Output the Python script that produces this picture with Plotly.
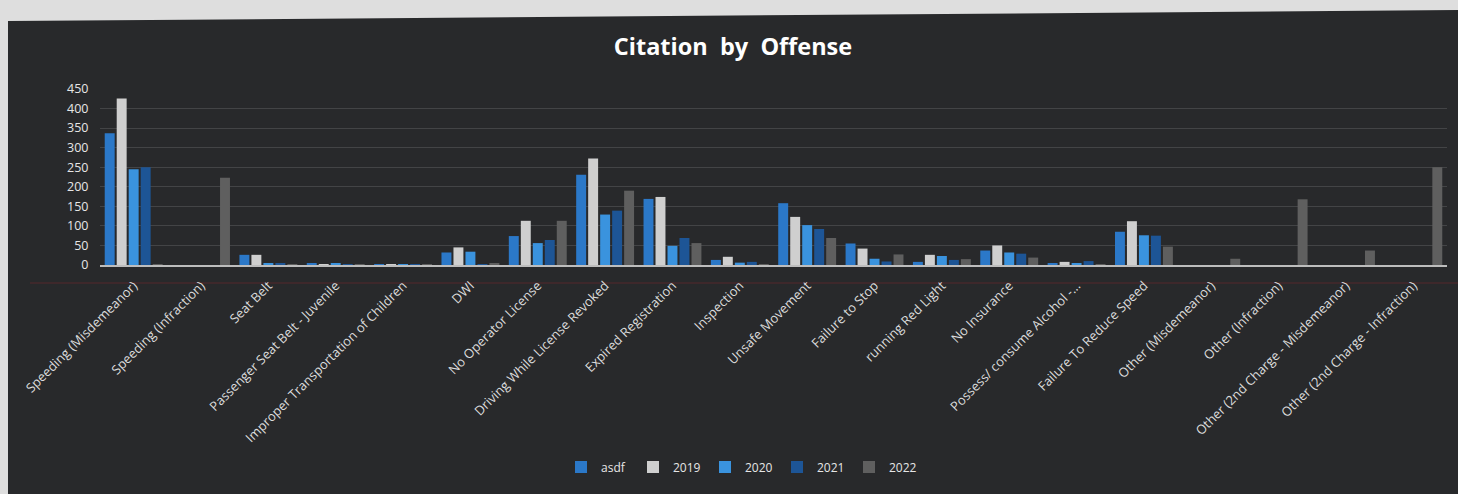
import plotly.graph_objects as go

categories = [
    "Speeding (Misdemeanor)", "Speeding (Infraction)", "Seat Belt",
    "Passenger Seat Belt - Juvenile", "Improper Transportation of Children",
    "DWI", "No Operator License", "Driving While License Revoked",
    "Expired Registration", "Inspection", "Unsafe Movement", "Failure to Stop",
    "running Red Light", "No Insurance", "Possess/ consume Alcohol -...",
    "Failure To Reduce Speed", "Other (Misdemeanor)", "Other (Infraction)",
    "Other (2nd Charge - Misdemeanor)", "Other (2nd Charge - Infraction)",
]

series_names = ["asdf", "2019", "2020", "2021", "2022"]

asdf = [337, 0, 26, 5, 1, 32, 74, 231, 169, 13, 158, 55, 8, 37, 5, 85, 0, 0, 0, 0]
y2019 = [426, 0, 26, 1, 1, 45, 113, 272, 174, 21, 123, 42, 26, 50, 8, 112, 0, 0, 0, 0]
y2020 = [245, 0, 3, 4, 1, 34, 56, 129, 49, 6, 102, 16, 23, 32, 5, 76, 0, 0, 0, 0]
y2021 = [250, 0, 3, 2, 1, 2, 64, 139, 69, 8, 92, 9, 13, 29, 10, 75, 0, 0, 0, 0]
y2022 = [1, 223, 1, 1, 1, 4, 113, 190, 56, 2, 69, 27, 15, 19, 2, 47, 16, 168, 37, 250]

y_ticks = [0, 50, 100, 150, 200, 250, 300, 350, 400, 450]

colors = ["#2b78c8", "#cfcfcf", "#3a93de", "#1d5596", "#5f5f5f"]
all_series = [asdf, y2019, y2020, y2021, y2022]

fig = go.Figure()
for name, vals, col in zip(series_names, all_series, colors):
    fig.add_trace(go.Bar(name=name, x=categories, y=vals,
                         marker=dict(color=col, line=dict(width=0))))

W, H = 1458, 494
ML, MR, MT, MB = 100, 11, 89, 229
PW = W - ML - MR
PH = H - MT - MB


def px(x):
    return (x - ML) / PW


def py(y):
    return (H - MB - y) / PH


dark_path = "M {:.4f},{:.4f} L {:.4f},{:.4f} L {:.4f},{:.4f} L {:.4f},{:.4f} Z".format(
    px(8), py(21), px(1470), py(10), px(1470), py(510), px(8), py(510))

fig.update_layout(
    width=W, height=H,
    margin=dict(l=ML, r=MR, t=MT, b=MB),
    paper_bgcolor="#dedede",
    plot_bgcolor="rgba(0,0,0,0)",
    barmode="group",
    bargap=0.11,
    bargroupgap=0.17,
    font=dict(family="Open Sans, sans-serif", color="#e6e6e6"),
    title=dict(text="<b>Citation  by  Offense</b>", x=733 / W, xanchor="center",
               y=1 - 47 / H, yanchor="middle",
               font=dict(size=23.5, color="#ffffff", family="Open Sans, sans-serif")),
    showlegend=True,
    legend=dict(orientation="h", x=px(741), xanchor="center", y=py(467), yanchor="middle",
                font=dict(size=12, color="#e6e6e6"), bgcolor="rgba(0,0,0,0)",
                itemwidth=30, entrywidth=27),
    shapes=[
        dict(type="path", path=dark_path, xref="paper", yref="paper",
             fillcolor="#28292b", line=dict(width=0), layer="below"),
        dict(type="line", xref="paper", yref="paper", x0=px(30), x1=px(1458),
             y0=py(283), y1=py(283), line=dict(color="rgba(120,40,45,0.55)", width=1),
             layer="below"),
    ],
)

fig.update_xaxes(
    type="category", tickangle=-45, showgrid=False,
    showline=True, linecolor="#bdbdbd", linewidth=2,
    ticks="outside", ticklen=6, tickcolor="rgba(0,0,0,0)",
    tickfont=dict(size=13, color="#dcdcdc", family="Open Sans, sans-serif"),
)
fig.update_yaxes(
    range=[0, 450], tickvals=y_ticks, showgrid=True, gridcolor="#434446", gridwidth=1,
    zeroline=False, showline=False,
    ticks="outside", ticklen=8, tickcolor="rgba(0,0,0,0)",
    tickfont=dict(size=12.5, color="#e6e6e6", family="Open Sans, sans-serif"),
)

fig.write_html("out.html", config={"displayModeBar": False},
               post_script="document.body.style.margin='0';document.body.style.background='#dedede';")
